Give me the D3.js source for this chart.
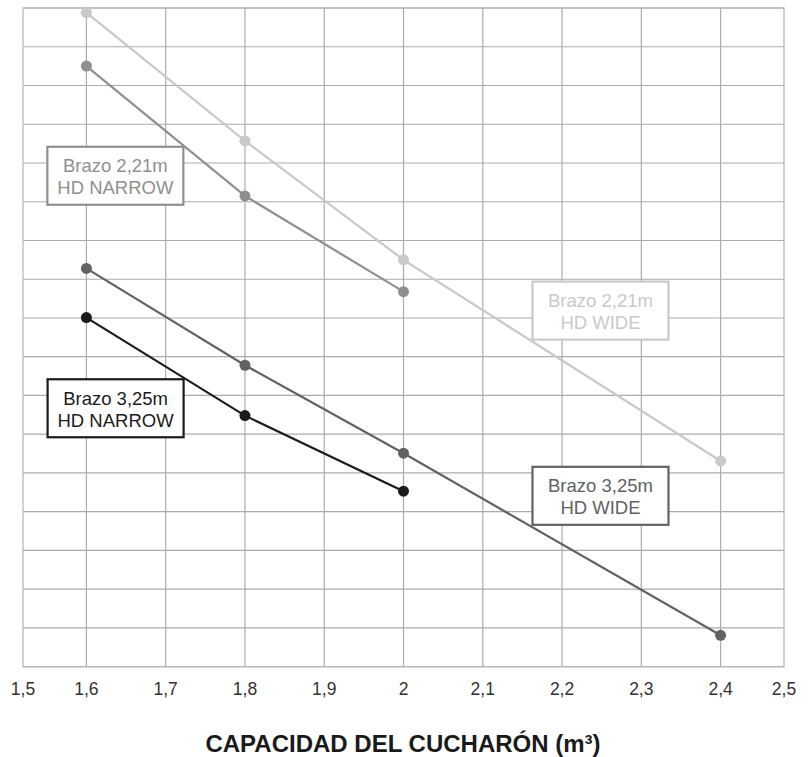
<!DOCTYPE html>
<html>
<head>
<meta charset="utf-8">
<script src="https://cdn.jsdelivr.net/npm/d3@7"></script>
<style>
  body { margin: 0; background: #fff; }
  text { font-family: "Liberation Sans", Arial, Helvetica, sans-serif; }
</style>
</head>
<body>
<div id="chart"></div>
<script>
// capacity ticks (m3)
const xTicks = [1.5, 1.6, 1.7, 1.8, 1.9, 2.0, 2.1, 2.2, 2.3, 2.4, 2.5];
const xGrid = [1.6, 1.7, 1.8, 1.9, 2.0, 2.1, 2.2, 2.3, 2.4];
const yGrid = d3.range(0, 18);

// series (grid units, no y labels in the original)
const wide221 = [[1.6, 16.88], [1.8, 13.57], [2.0, 10.50], [2.4, 5.31]];
const narrow221 = [[1.6, 15.50], [1.8, 12.15], [2.0, 9.68]];
const wide325 = [[1.6, 10.28], [1.8, 7.78], [2.0, 5.51], [2.4, 0.81]];
const narrow325 = [[1.6, 9.01], [1.8, 6.48], [2.0, 4.53]];

const seriesNames = ["Brazo 2,21m|HD WIDE", "Brazo 2,21m|HD NARROW", "Brazo 3,25m|HD WIDE", "Brazo 3,25m|HD NARROW"];
const seriesColors = ["#c9c9c9", "#8f8f90", "#626264", "#1b1b1b"];
// label box centres, in data units
const labelPos = [[2.2485, 9.19], [1.6365, 12.67], [2.2485, 4.41], [1.6368, 6.67]];

const width = 808, height = 757;
const mLeft = 23, mRight = 784, mTop = 8, mBottom = 666.7;

const svg = d3.select("#chart").append("svg")
    .attr("width", width)
    .attr("height", height);

let x = d3.scaleLinear().domain([1.52, 2.48]).range([mLeft, mRight]).clamp(true);
let y = d3.scaleLinear().domain([0, 17]).range([mBottom, mTop]);

// grid
let grid = svg.append("g").attr("stroke", "#ababab").attr("stroke-width", 1.2);
grid.selectAll(".v").data(xGrid).enter().append("line")
    .attr("x1", d => x(d)).attr("x2", d => x(d))
    .attr("y1", mTop).attr("y2", mBottom);
grid.selectAll(".h").data(yGrid).enter().append("line")
    .attr("x1", mLeft).attr("x2", mRight)
    .attr("y1", d => y(d)).attr("y2", d => y(d));
grid.append("rect")
    .attr("x", mLeft).attr("y", mTop)
    .attr("width", mRight - mLeft).attr("height", mBottom - mTop)
    .attr("fill", "none")
    .attr("stroke", "#b5b5b5");

// x tick labels
svg.append("g").selectAll("text").data(xTicks).enter().append("text")
    .attr("x", d => x(d))
    .attr("y", 694.5)
    .attr("text-anchor", "middle")
    .attr("font-size", 17.5)
    .attr("fill", "#333")
    .text(d => d3.format(".1f")(d).replace(".0", "").replace(".", ","));

// axis title
svg.append("text")
    .attr("x", 403)
    .attr("y", 752)
    .attr("text-anchor", "middle")
    .attr("font-size", 24)
    .attr("font-weight", "bold")
    .attr("fill", "#1a1a1a")
    .text("CAPACIDAD DEL CUCHARÓN (m³)");

// lines + dots
const allSeries = [wide221, narrow221, wide325, narrow325];
let line = d3.line().x(d => x(d[0])).y(d => y(d[1]));

allSeries.forEach((s, i) => {
    let g = svg.append("g");
    g.append("path")
        .datum(s)
        .attr("d", line)
        .attr("fill", "none")
        .attr("stroke", seriesColors[i])
        .attr("stroke-width", 2.2);
    g.selectAll("circle").data(s).enter().append("circle")
        .attr("cx", d => x(d[0]))
        .attr("cy", d => y(d[1]))
        .attr("r", 5.5)
        .attr("fill", seriesColors[i]);
});

// label boxes
const boxW = 136, boxH = 58;
seriesNames.forEach((name, i) => {
    let cx = x(labelPos[i][0]), cy = y(labelPos[i][1]);
    let g = svg.append("g").attr("transform", `translate(${cx - boxW / 2},${cy - boxH / 2})`);
    g.append("rect")
        .attr("width", boxW).attr("height", boxH)
        .attr("fill", "#fff")
        .attr("stroke", seriesColors[i])
        .attr("stroke-width", 2.2);
    name.split("|").forEach((t, j) => {
        g.append("text")
            .attr("x", boxW / 2)
            .attr("y", 25.5 + j * 22)
            .attr("text-anchor", "middle")
            .attr("font-size", 18.5)
            .attr("fill", seriesColors[i])
            .text(t);
    });
});
</script>
</body>
</html>
